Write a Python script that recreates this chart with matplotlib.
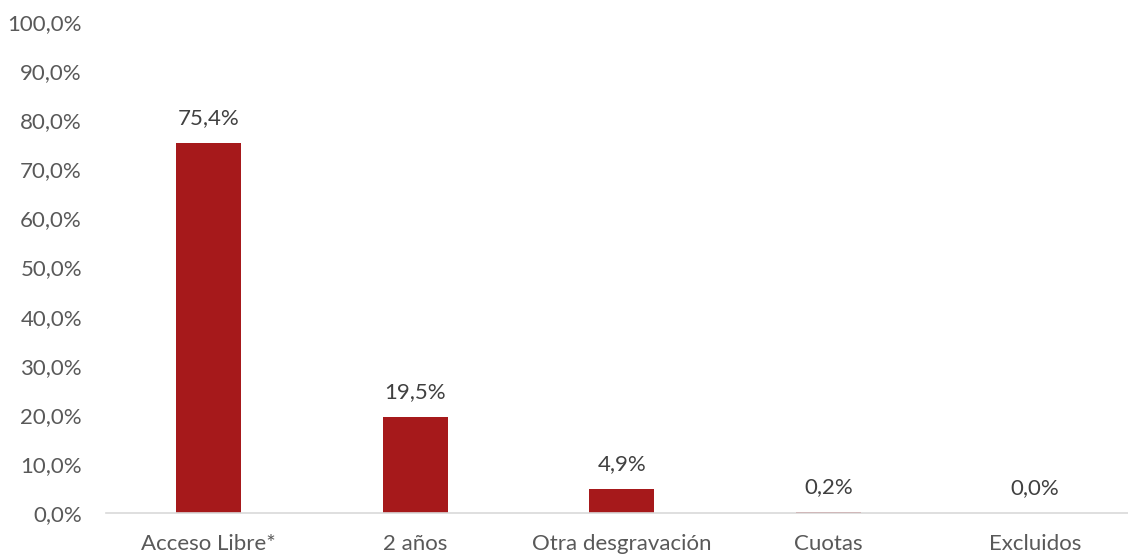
import numpy as np
import matplotlib.pyplot as plt

plt.rcParams['font.family'] = ['Lato', 'DejaVu Sans']

# Data
categories = ["Acceso Libre*", "2 años", "Otra desgravación", "Cuotas", "Excluidos"]
values = [75.4, 19.5, 4.9, 0.2, 0.0]
yticks = [0, 10, 20, 30, 40, 50, 60, 70, 80, 90, 100]


def fmt(v):
    return f"{v:.1f}%".replace(".", ",")


fig = plt.figure(figsize=(11.28, 5.54), dpi=100)
# plot area runs slightly past the right edge, as in the original
ax = fig.add_axes([0.0936, 0.074, 0.9153, 0.886])

x = np.arange(len(categories))
bars = ax.bar(x, values, width=0.315, color="#A6191B")

# Data labels
for xi, v in zip(x, values):
    ax.text(xi, v + 3.0, fmt(v), ha="center", va="bottom",
            fontsize=16, color="#404040")

ax.set_xlim(-0.5, len(categories) - 0.5)
ax.set_ylim(0, 100)
ax.set_xticks(x)
ax.set_xticklabels(categories, fontsize=16, color="#595959")
ax.set_yticks(yticks)
ax.set_yticklabels([fmt(t) for t in yticks], fontsize=16, color="#595959")
ax.tick_params(axis="both", length=0)
ax.tick_params(axis="x", pad=15)
ax.tick_params(axis="y", pad=17)

for s in ["top", "right", "left"]:
    ax.spines[s].set_visible(False)
ax.spines["bottom"].set_color("#D9D9D9")
ax.spines["bottom"].set_linewidth(1.2)

fig.savefig("out.png", dpi=100)
